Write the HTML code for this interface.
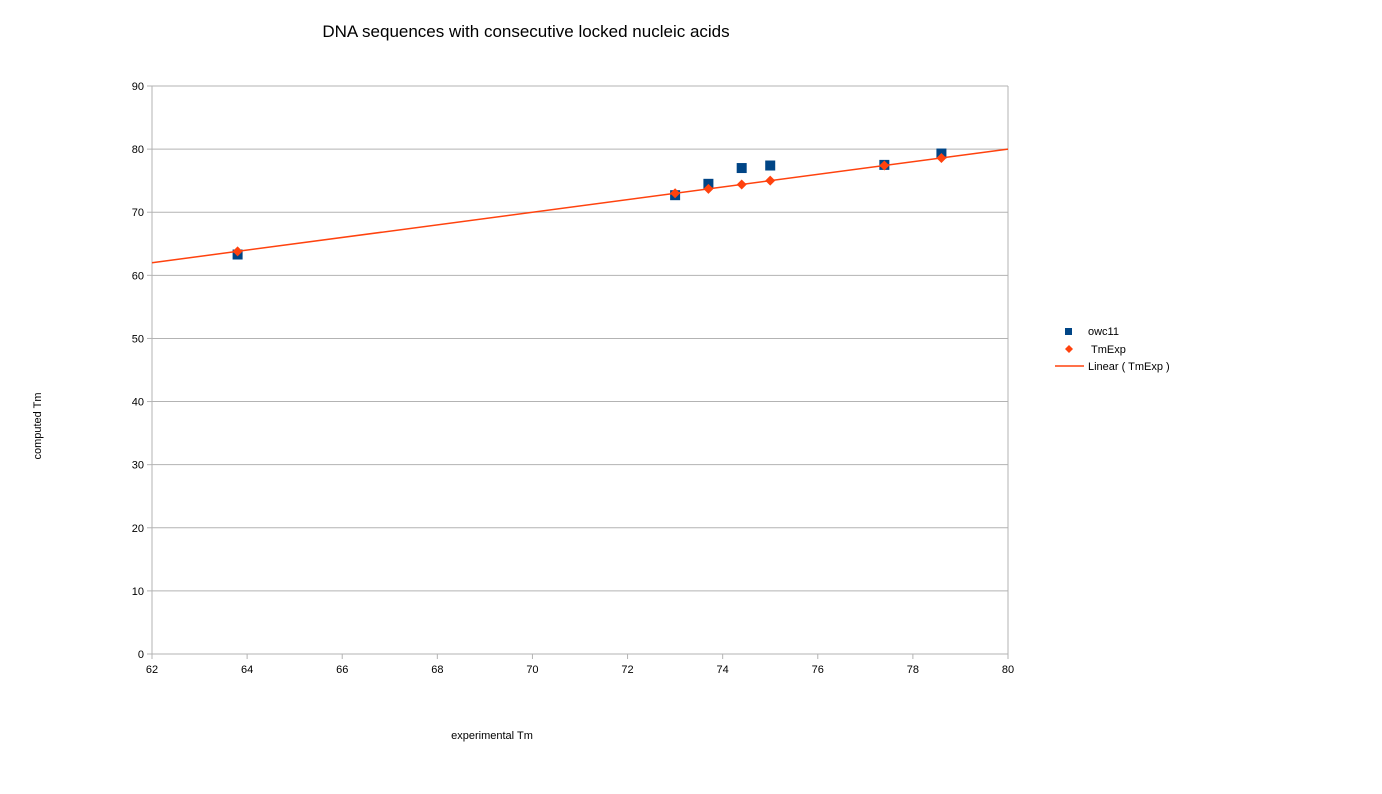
<!DOCTYPE html>
<html><head><meta charset="utf-8"><style>
body{margin:0;background:#fff;font-family:"Liberation Sans",sans-serif;}
svg text{font-family:"Liberation Sans",sans-serif;}
</style></head><body>
<svg id="chart" width="1382" height="789" xmlns="http://www.w3.org/2000/svg">
<text x="526" y="37" font-size="17" text-anchor="middle" fill="#000">DNA sequences with consecutive locked nucleic acids</text>
<text x="492" y="739" font-size="11" text-anchor="middle" fill="#000">experimental Tm</text>
<text transform="translate(41,426) rotate(-90)" font-size="11" text-anchor="middle" fill="#000">computed Tm</text>
<g id="grid"></g><g id="marks"></g>
<g>
<rect x="1065" y="328" width="7" height="7" fill="#004586"/>
<text x="1088" y="335" font-size="11">owc11</text>
<polygon points="1069,345 1073,349 1069,353 1065,349" fill="#ff420e"/>
<text x="1091" y="353" font-size="11">TmExp</text>
<line x1="1055" y1="366" x2="1084" y2="366" stroke="#ff420e" stroke-width="1.5"/>
<text x="1088" y="370" font-size="11">Linear ( TmExp )</text>
</g>
</svg>
<script>
const xs = [63.8, 73, 73.7, 74.4, 75, 77.4, 78.6];
const owc11 = [63.3, 72.7, 74.5, 77, 77.4, 77.5, 79.3];
const tmExp = [63.8, 73, 73.7, 74.4, 75, 77.4, 78.6];
const xTicks = [62,64,66,68,70,72,74,76,78,80];
const yTicks = [0,10,20,30,40,50,60,70,80,90];
const L=152,R=1008,T=86,B=654;
const sx=v=>L+(v-62)/18*(R-L), sy=v=>B-v/90*(B-T);
const NS="http://www.w3.org/2000/svg";
const grid=document.getElementById('grid'), marks=document.getElementById('marks');
function mk(tag,attrs,parent){const e=document.createElementNS(NS,tag);for(const k in attrs)e.setAttribute(k,attrs[k]);parent.appendChild(e);return e;}
yTicks.forEach(t=>{
  const l=mk('line',{x1:L,x2:R,y1:sy(t),y2:sy(t),stroke:t===0?'#b3b3b3':'#b3b3b3','stroke-width':1},grid);
  
  
  const tk=mk('line',{x1:L-5,x2:L,y1:sy(t),y2:sy(t),stroke:'#b3b3b3'},grid);
  
  
  const tx=mk('text',{x:L-8,y:sy(t)+4,'font-size':11,'text-anchor':'end',fill:'#000'},grid);
  tx.textContent=t;
  
  
});
xTicks.forEach(t=>{
  const tk=mk('line',{x1:sx(t),x2:sx(t),y1:B,y2:B+5,stroke:'#b3b3b3'},grid);
  
  
  const tx=mk('text',{x:sx(t),y:B+19,'font-size':11,'text-anchor':'middle',fill:'#000'},grid);
  tx.textContent=t;
  
  
});
const lv=mk('line',{x1:L,x2:L,y1:T,y2:B,stroke:'#b3b3b3'},grid);


const rv=mk('line',{x1:R,x2:R,y1:T,y2:B,stroke:'#b3b3b3'},grid);


xs.forEach((x,i)=>{
  const r=mk('rect',{x:sx(x)-5,y:sy(owc11[i])-5,width:10,height:10,fill:'#004586'},marks);
  
  
});
// linear regression of tmExp vs xs
const n=xs.length,mx=xs.reduce((a,b)=>a+b)/n,my=tmExp.reduce((a,b)=>a+b)/n;
let num=0,den=0;xs.forEach((x,i)=>{num+=(x-mx)*(tmExp[i]-my);den+=(x-mx)**2;});
const m=num/den,b=my-m*mx;
const ln=mk('line',{x1:sx(62),y1:sy(m*62+b),x2:sx(80),y2:sy(m*80+b),stroke:'#ff420e','stroke-width':1.5},marks);


xs.forEach((x,i)=>{
  const cx=sx(x),cy=sy(tmExp[i]);
  const p=mk('polygon',{points:`${cx},${cy-5} ${cx+5},${cy} ${cx},${cy+5} ${cx-5},${cy}`,fill:'#ff420e'},marks);
  
  
});
</script>
</body></html>
